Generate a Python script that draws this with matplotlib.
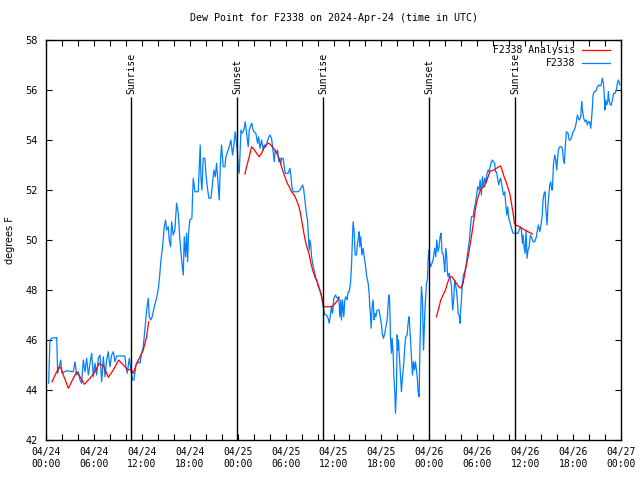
import numpy as np
import pandas as pd
import matplotlib
matplotlib.use('Agg')
import matplotlib.pyplot as plt
import matplotlib.dates as mdates

# Observed dew point (hours after 2024-04-24 00:00 UTC, deg F)
obs_hours = [
    0.33, 0.50, 0.71, 1.34, 1.46, 1.67, 1.84, 2.0, 2.59, 3.42, 3.63, 3.84, 4.05, 4.26, 4.46,
    4.67, 4.88, 5.09, 5.3, 5.51, 5.72, 5.93, 6.13, 6.34, 6.55, 6.76, 6.97, 7.18, 7.39, 7.59,
    7.8, 8.01, 8.22, 8.43, 8.64, 8.85, 9.89, 10.01, 10.18, 10.43, 10.6, 10.85, 11.01, 11.27,
    11.56, 11.77, 11.97, 12.18,
    12.3, 12.6, 12.8, 12.93, 13.1, 13.3, 13.56, 13.85, 14.1, 14.26, 14.39, 14.6, 14.81, 14.97,
    15.1, 15.31, 15.43, 15.6, 15.73, 15.93, 16.14, 16.35, 16.56, 16.77, 16.98, 17.19, 17.31,
    17.48, 17.6, 17.73, 17.85, 18.02, 18.27, 18.35, 18.44, 18.65, 19.06, 19.19, 19.31, 19.4,
    19.52, 19.69, 19.9, 20.02, 20.19, 20.4, 20.65, 20.81, 21.02, 21.19, 21.36, 21.57, 21.69,
    21.86, 21.98, 22.19, 22.4, 22.53, 22.73, 22.94, 23.15, 23.36, 23.53, 23.69, 23.86,
    23.95, 24.07, 24.2, 24.28, 24.41, 24.57, 24.78, 24.95, 25.12, 25.32, 25.45, 25.66, 25.78,
    25.87, 26.03, 26.28, 26.49, 26.62, 26.79, 27.0, 27.2, 27.33, 27.54, 27.83, 28.04, 28.24,
    28.37, 28.58, 28.7, 28.87, 29.0, 29.16, 29.29, 29.41, 29.5, 29.7, 29.83, 29.96, 30.33,
    30.54, 30.66, 30.79, 30.96, 31.58, 31.79, 32.0, 32.12, 32.25, 32.42, 32.63, 32.75, 32.88,
    32.96, 33.04, 33.17, 33.25, 33.46, 33.67, 33.79, 33.96, 34.09,
    34.29, 34.5, 34.71, 34.92, 35.12, 35.33, 35.46, 35.62, 35.75, 35.88, 36.04, 36.25, 36.46,
    36.67, 36.79, 36.92, 37.0, 37.13, 37.29, 37.42, 37.54, 37.71, 37.84, 37.96, 38.13, 38.25,
    38.38, 38.46, 38.59, 38.71, 38.88, 39.0, 39.13, 39.21, 39.29, 39.42, 39.55, 39.71, 39.84,
    40.0, 40.13, 40.34, 40.46, 40.55, 40.63, 40.71, 40.84, 40.96, 41.09, 41.17, 41.3, 41.46,
    41.71, 41.88, 42.01, 42.13, 42.26, 42.43, 42.55, 42.72, 42.8, 42.88, 42.97, 43.05, 43.13,
    43.26, 43.34, 43.47, 43.55, 43.68, 43.76, 43.89, 43.97, 44.05, 44.14, 44.22, 44.3, 44.43,
    44.51, 44.64, 44.8, 44.93, 45.05, 45.22, 45.3, 45.39, 45.47, 45.55, 45.68, 45.76, 45.89,
    46.01, 46.14, 46.26, 46.39, 46.51, 46.6, 46.72, 46.81, 46.93, 47.01, 47.14, 47.27, 47.35,
    47.43, 47.64, 47.76, 47.85, 47.93, 48.01, 48.14, 48.26, 48.47, 48.68, 48.81, 48.93, 49.1,
    49.22, 49.35, 49.47, 49.6, 49.72, 49.85, 49.93, 50.06, 50.18, 50.27, 50.35, 50.48, 50.6,
    50.77, 50.93, 51.06, 51.18, 51.39, 51.52, 51.6, 51.77, 51.85, 51.94, 52.02, 52.14, 52.27,
    52.44, 52.6, 52.77, 52.9, 53.02, 53.15, 53.27, 53.48, 53.6, 53.77, 53.94, 54.06, 54.23,
    54.36, 54.52, 54.65, 54.77, 54.94, 55.06, 55.23, 55.36, 55.48, 55.61, 55.77, 55.9, 56.02,
    56.19, 56.27, 56.4, 56.52, 56.69, 56.82, 56.94, 57.11, 57.28, 57.44, 57.57, 57.69, 57.82,
    57.94,
    58.07, 58.28, 58.49, 58.82, 59.11, 59.24, 59.4, 59.53, 59.66, 59.74, 59.86, 59.99, 60.11,
    60.24, 60.36, 60.49, 60.66, 60.78, 60.99, 61.2, 61.41, 61.53, 61.66, 61.83, 61.95, 62.12,
    62.24, 62.37, 62.49, 62.57, 62.74, 62.87, 62.99, 63.08, 63.2, 63.33, 63.41, 63.54, 63.7,
    63.83, 63.95, 64.04, 64.16, 64.33, 64.54, 64.66, 64.79, 64.91, 65.04, 65.16, 65.37, 65.5,
    65.66, 65.83, 66.0, 66.16, 66.29, 66.41, 66.54, 66.66, 66.79, 66.96, 67.08, 67.17, 67.33,
    67.5, 67.67, 67.79, 67.92, 68.08, 68.21, 68.29, 68.42, 68.5, 68.63, 68.75, 68.92, 69.04,
    69.21, 69.38, 69.5, 69.67, 69.79, 69.88, 70.0, 70.09, 70.21, 70.34, 70.42, 70.5, 70.67,
    70.79, 70.92, 71.09, 71.25, 71.42, 71.55, 71.67, 71.8, 71.88,
]
obs_dewpt = [
    44.27, 46.0, 46.07, 46.1, 44.67, 44.93, 45.2, 44.67, 44.77, 44.73, 45.13, 44.6, 44.73, 44.4, 44.27,
    45.2, 44.73, 45.27, 44.6, 45.07, 45.47, 44.53, 45.07, 44.6, 45.27, 45.4, 44.33, 45.33, 44.53, 45.2,
    45.53, 44.93, 45.4, 45.53, 45.13, 45.36, 45.36, 44.93, 44.67, 45.27, 44.87, 44.4, 44.4, 45.0,
    45.13, 45.07, 45.47, 45.73,
    46.13, 47.2, 47.67, 46.93, 46.8, 46.93, 47.33, 47.67, 48.13, 48.67, 49.2, 49.73, 50.53, 50.8,
    50.4, 50.53, 50.0, 49.73, 50.73, 50.2, 50.4, 51.47, 51.07, 50.0, 49.2, 48.6, 50.13,
    49.33, 50.27, 49.13, 50.27, 50.8, 50.87, 51.73, 52.47, 51.93, 51.93, 52.93, 53.8, 52.53,
    52.0, 53.27, 53.27, 52.67, 52.13, 51.67, 51.67, 52.13, 52.8, 52.53, 53.07, 52.13, 51.6,
    53.27, 53.8, 52.93, 52.93, 53.33, 53.53, 53.73, 54.0, 53.4, 53.8, 54.33, 53.87,
    53.6, 52.93, 52.67, 53.33, 54.4, 54.27, 54.4, 54.73, 54.27, 53.73, 54.4, 54.6, 54.67,
    54.47, 54.33, 54.27, 53.87, 54.13, 53.67, 54.0, 53.6, 53.8, 53.73, 54.07, 54.2, 54.07,
    53.73, 53.13, 53.6, 53.47, 53.6, 53.13, 53.27, 53.07, 53.27, 53.27, 52.93, 52.67, 52.67,
    52.87, 52.6, 52.13, 51.93, 51.93, 52.0, 52.11, 52.2, 52.07, 51.6, 51.0, 50.8, 50.0,
    49.6, 50.0, 49.73, 49.33, 48.93, 48.67, 48.47, 48.33, 48.13,
    48.0, 47.73, 47.33, 47.0, 47.0, 46.87, 46.67, 47.0, 47.33, 47.07, 47.67, 47.8, 47.67,
    47.73, 46.93, 47.6, 46.8, 47.6, 46.93, 47.6, 47.73, 47.6, 47.93, 47.93, 48.27, 48.93,
    50.13, 50.73, 50.33, 49.4, 49.4, 49.87, 50.13, 50.33, 49.73, 50.13, 49.4, 49.67, 49.33,
    49.0, 48.6, 48.27, 47.87, 47.33, 47.0, 46.47, 47.33, 47.6, 46.8, 47.07, 46.93, 47.2,
    47.2, 46.87, 46.6, 46.2, 46.07, 46.27, 46.53, 46.8, 47.2, 47.6, 47.8, 47.33, 46.13,
    45.47, 46.07, 45.47, 44.6, 43.87, 43.07, 44.13, 46.2, 45.6, 46.0, 45.47, 45.07, 44.33,
    43.93, 44.53, 45.07, 45.73, 46.13, 46.2, 46.53, 46.8, 46.93, 46.53, 45.8, 45.33, 44.6,
    45.13, 44.8, 45.13, 44.8, 44.4, 43.93, 43.73, 45.47, 47.0, 48.13, 47.6, 45.6, 46.27,
    47.07, 48.27, 48.4, 49.2, 49.6, 49.2, 48.93, 49.0, 49.2, 49.67, 49.33, 50.0, 49.53,
    49.73, 50.13, 50.27, 49.47, 49.47, 49.07, 48.73, 49.67, 49.33, 48.67, 48.53, 48.67, 48.53,
    48.13, 47.2, 47.67, 48.4, 48.0, 47.53, 47.07, 46.93, 46.67, 47.27, 47.6, 48.27, 48.6,
    48.73, 49.0, 49.4, 49.73, 50.0, 50.53, 50.93, 50.93, 51.2, 51.47, 51.87, 52.13, 52.0,
    52.4, 51.8, 52.53, 52.13, 52.47, 52.27, 52.67, 52.8, 52.73, 52.93, 53.13, 53.2, 53.13,
    53.07, 52.73, 52.73, 52.53, 52.2, 52.4, 52.47, 52.13, 51.8, 51.93, 51.47, 51.0, 51.33,
    50.87,
    50.73, 50.47, 50.27, 50.27, 50.27, 50.4, 50.53, 50.4, 49.87, 50.2, 49.73, 49.47, 50.4,
    49.27, 49.6, 49.73, 50.2, 50.13, 49.93, 49.93, 50.13, 50.4, 50.6, 50.33, 50.53, 50.93,
    51.6, 51.87, 51.93, 51.33, 50.6, 51.47, 51.87, 52.2, 52.33, 52.0, 52.0, 53.0, 53.4,
    53.2, 52.8, 53.2, 53.6, 53.73, 53.73, 53.67, 53.2, 53.07, 53.8, 54.33, 54.27, 54.0,
    54.0, 54.13, 54.33, 54.4, 54.53, 54.73, 55.0, 54.87, 54.8, 54.93, 55.53, 55.2, 54.87,
    54.73, 54.8, 54.6, 54.73, 54.73, 54.47, 54.73, 55.33, 55.8, 55.93, 55.93, 56.0, 56.13,
    56.2, 56.16, 56.2, 56.47, 56.27, 55.93, 55.2, 55.6, 55.4, 55.53, 55.93, 55.6, 55.4,
    55.4, 55.6, 55.87, 55.87, 56.0, 56.27, 56.4, 56.27, 56.2,
]

# Analysis dew point (NaN marks a gap in the analysis)
ana_hours = [
    0.75, 1.34, 1.67, 1.88, 2.17, 2.8, 3.42, 3.84, 4.26, 4.8, 5.51, 6.13, 6.68, 7.26, 7.8,
    8.43, 9.1, 9.68, 10.18, 10.72, 10.93, 11.35, 11.77, 12.18, 12.6, 12.85, 13.0,
    24.91, 25.12, 25.45, 25.74, 26.03, 26.37, 26.7, 27.0, 27.2, 27.54, 27.83, 28.04, 28.33,
    28.66, 28.95, 29.29, 29.62, 29.91, 30.21, 30.46, 30.75, 31.08, 31.37, 31.67, 31.87, 32.08,
    32.29, 32.5, 32.71, 32.92, 33.17, 33.38, 33.67, 33.96, 34.29, 34.54, 34.8, 35.13, 35.55,
    35.9, 36.3, 36.7, 36.8,
    48.89, 49.18, 49.43, 49.72, 50.02, 50.27, 50.56, 50.85, 51.1, 51.39, 51.69, 51.94, 52.23,
    52.44, 52.65, 52.85, 53.06, 53.27, 53.48, 53.69, 53.9, 54.1, 54.31, 54.52, 54.86, 55.15,
    55.36, 55.57, 55.77, 56.11, 56.4, 56.69, 56.94, 57.11, 57.36, 57.61, 57.86, 58.07, 58.28,
    58.49, 58.65, 58.82, 59.32, 59.95, 60.36, 60.91,
]
ana_dewpt = [
    44.33, 44.73, 44.93, 44.87, 44.6, 44.07, 44.47, 44.73, 44.53, 44.23, 44.47, 44.73, 45.07, 44.93, 44.51,
    44.8, 45.2, 45.0, 44.83, 44.8, 44.67, 45.07, 45.33, 45.6, 46.13, 46.73, np.nan,
    52.64, 52.93, 53.33, 53.73, 53.63, 53.47, 53.33, 53.47, 53.63, 53.8, 53.87, 53.84, 53.73,
    53.6, 53.47, 53.13, 52.8, 52.53, 52.27, 52.13, 51.93, 51.8, 51.6, 51.33, 51.07, 50.67,
    50.27, 49.93, 49.67, 49.47, 49.07, 48.8, 48.53, 48.33, 48.0, 47.73, 47.33, 47.33, 47.33,
    47.36, 47.5, 47.67, np.nan,
    46.93, 47.27, 47.6, 47.8, 48.0, 48.27, 48.53, 48.53, 48.4, 48.27, 48.13, 48.07, 48.27,
    48.67, 49.0, 49.33, 49.73, 50.13, 50.6, 51.07, 51.47, 51.73, 51.93, 52.07, 52.13, 52.33,
    52.53, 52.73, 52.77, 52.8, 52.87, 52.93, 52.96, 52.8, 52.53, 52.33, 52.07, 51.87, 51.47,
    51.07, 50.67, 50.6, 50.53, 50.4, 50.33, 50.24,
]

# Sunrise / sunset, hours after start
sun_hours = [10.68, 23.95, 34.71, 47.98, 58.75]
sun_labels = ['Sunrise', 'Sunset', 'Sunrise', 'Sunset', 'Sunrise']

start = pd.Timestamp('2024-04-24 00:00')
obs_t = start + pd.to_timedelta(np.array(obs_hours), unit='h')
ana_t = start + pd.to_timedelta(np.array(ana_hours), unit='h')
sun_t = start + pd.to_timedelta(np.array(sun_hours), unit='h')

plt.rcParams['font.family'] = 'DejaVu Sans Mono'
plt.rcParams['font.size'] = 7

fig = plt.figure(figsize=(6.4, 4.8), dpi=100)
ax = fig.add_axes([46 / 640, 40 / 480, 575 / 640, 400 / 480])

ax.plot(ana_t, ana_dewpt, color='#ff0000', lw=0.9, label='F2338 Analysis', zorder=3)
ax.plot(obs_t, obs_dewpt, color='#0080ff', lw=0.9, label='F2338', zorder=2)

for t, lab in zip(sun_t, sun_labels):
    ax.vlines(t, 42, 55.72, color='black', lw=1.0, zorder=4)
    ax.text(t, 55.85, lab, rotation=90, ha='center', va='bottom', fontsize=7)

ax.set_xlim(start, start + pd.Timedelta(hours=72))
ax.set_ylim(42, 58)
ax.set_yticks(np.arange(42, 59, 2))

ax.xaxis.set_major_locator(mdates.HourLocator(byhour=[0, 6, 12, 18]))
ax.xaxis.set_major_formatter(mdates.DateFormatter('%m/%d\n%H:%M'))
ax.xaxis.set_minor_locator(mdates.HourLocator(byhour=range(0, 24, 2)))

ax.tick_params(which='both', direction='in', top=True, right=True, length=4, width=0.8)
ax.tick_params(axis='x', pad=5)
ax.tick_params(axis='y', pad=6)
for lab in ax.get_yticklabels():
    lab.set_family('DejaVu Sans')

ax.set_title('Dew Point for F2338 on 2024-Apr-24 (time in UTC)', fontsize=7.2, pad=14)
ax.set_ylabel('degrees F', fontsize=7, family='DejaVu Sans', labelpad=7)

ax.legend(loc='upper right', bbox_to_anchor=(1 - 11 / 575, 1 - 5 / 400), frameon=False,
          markerfirst=False, fontsize=7, handlelength=2.9, borderaxespad=0, borderpad=0,
          labelspacing=0.35, handletextpad=0.7)

for s in ax.spines.values():
    s.set_linewidth(1.0)

fig.savefig('out.png', dpi=100)
